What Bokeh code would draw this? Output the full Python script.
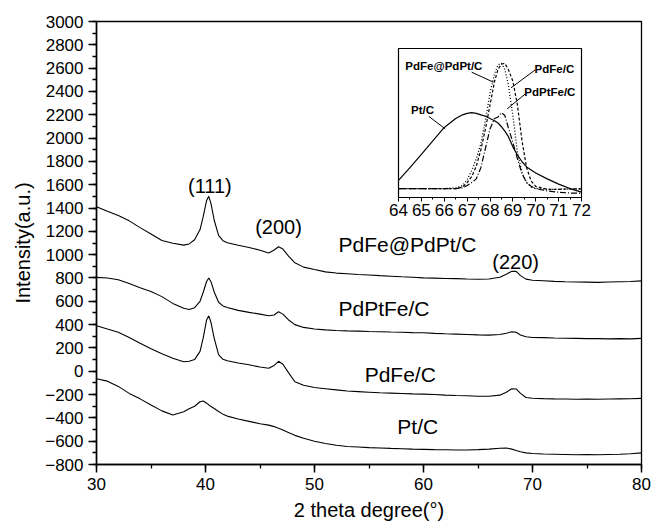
from bokeh.plotting import figure
from bokeh.models import Range1d, SingleIntervalTicker, Column
from bokeh.core.properties import value
from bokeh.embed import file_html
from bokeh.resources import INLINE

FONT = "Liberation Sans"

# ---------------- main XRD data ----------------
two_theta = [30, 31, 32, 33, 34, 35, 36, 37, 38, 38.5,
             39, 39.5, 39.8, 40.1, 40.3, 40.5, 40.8, 41.2, 41.6, 42,
             43, 44, 45, 45.8, 46.3, 46.7, 47.1, 47.6, 48.2, 49,
             50, 51, 52, 53, 54, 55, 56, 57, 58, 59,
             60, 61, 62, 63, 64, 65, 66, 67, 67.6, 68.1,
             68.5, 68.9, 69.4, 70, 71, 72, 73, 74, 75, 76,
             77, 78, 79, 80]

pdfe_at_pdpt = [1410, 1372, 1335, 1290, 1232, 1178, 1122, 1098, 1082, 1092,
                1128, 1215, 1330, 1465, 1500, 1440, 1295, 1165, 1120, 1102,
                1080, 1062, 1038, 1015, 1040, 1068, 1048, 990, 930, 893,
                872, 852, 842, 836, 830, 826, 820, 815, 810, 806,
                801, 799, 796, 794, 791, 789, 791, 806, 832, 858,
                857, 820, 790, 781, 776, 771, 767, 765, 764, 762,
                765, 768, 770, 775]

pdptfe = [805, 800, 785, 752, 716, 684, 640, 582, 540, 530,
          545, 600, 680, 770, 800, 768, 680, 592, 560, 546,
          522, 505, 490, 476, 482, 510, 490, 442, 400, 376,
          362, 355, 350, 346, 344, 341, 339, 336, 334, 331,
          330, 325, 321, 318, 315, 312, 310, 315, 326, 338,
          334, 311, 296, 290, 288, 285, 283, 282, 280, 280,
          278, 280, 278, 282]

pdfe = [390, 362, 335, 290, 240, 192, 150, 112, 82, 86,
        100, 170, 290, 440, 475, 420, 282, 142, 102, 90,
        70, 55, 36, 25, 50, 85, 60, -10, -90, -120,
        -140, -150, -160, -170, -175, -180, -185, -188, -191, -194,
        -196, -200, -205, -208, -210, -214, -215, -205, -180, -150,
        -152, -190, -225, -232, -235, -237, -238, -240, -238, -240,
        -238, -237, -236, -233]

pt = [-65, -85, -130, -190, -237, -290, -340, -375, -348, -322,
      -300, -262, -255, -274, -288, -303, -320, -345, -368, -385,
      -410, -430, -450, -462, -475, -490, -505, -525, -550, -575,
      -600, -620, -635, -645, -650, -655, -658, -662, -665, -668,
      -670, -672, -673, -675, -675, -672, -668, -660, -658, -668,
      -680, -690, -700, -705, -710, -712, -714, -716, -715, -717,
      -714, -712, -708, -700]

series_names = ["PdFe@PdPt/C", "PdPtFe/C", "PdFe/C", "Pt/C"]
series_label_x = [52.2, 52.2, 54.6, 57.6]
series_label_y = [1090, 535, -30, -470]

peak_labels = ["(111)", "(200)", "(220)"]
peak_label_x = [40.4, 46.7, 68.45]
peak_label_y = [1585, 1240, 935]

# ---------------- inset data ----------------
inset_x = [64, 64.5, 65, 65.5, 66, 66.5, 66.8, 67, 67.2, 67.4,
           67.6, 67.8, 68, 68.2, 68.35, 68.5, 68.65, 68.8, 69, 69.2,
           69.4, 69.6, 69.8, 70, 70.5, 71, 71.5, 72]
inset_pt = [11.5, 20, 29, 38, 47, 53, 55.5, 56.5, 57, 56.5,
            55.5, 54.5, 53, 51.5, 50, 47.5, 44.5, 41, 34, 28.5,
            24, 20.5, 18.5, 16.5, 12.5, 9, 6, 3.6]
inset_pdfe_at_pdpt = [6, 6, 6, 6, 6, 6.5, 8, 12, 18, 26,
                      36, 52, 70, 83, 89, 90, 86, 76, 55, 30,
                      17, 10, 7, 6, 5.5, 5.5, 5.8, 5.8]
inset_pdfe = [6, 6, 6, 6, 6, 6, 7, 10, 14, 21,
              32, 46, 62, 78, 86, 89.5, 90, 86, 78, 62,
              38, 20, 11, 7.5, 5.5, 5.5, 5.8, 5.8]
inset_pdptfe = [6, 6, 6, 6, 6, 6, 6.5, 8, 10, 12.5,
                20, 33, 46, 53, 54, 57, 55, 47, 37, 26,
                16, 10, 7.5, 6, 4.5, 3.5, 3, 3]

inset_label_x = [64.3, 69.95, 69.5, 64.55]
inset_label_y = [88.5, 86, 70.7, 58.4]
# leader lines: label end -> curve
leader_x0 = [67.2, 69.98, 69.55, 65.33]
leader_y0 = [84.1, 85.7, 69.6, 54.4]
leader_x1 = [68.15, 68.92, 68.75, 66.04]
leader_y1 = [77.4, 73.6, 59.5, 46.1]

BORDER_L = 96
BORDER_R = 10

# ---------------- main figure ----------------
p = figure(width=651, height=528, x_range=Range1d(30, 80), y_range=Range1d(-800, 3000),
           output_backend="svg", toolbar_location=None,
           min_border_left=BORDER_L, min_border_right=BORDER_R, min_border_top=21, min_border_bottom=64)
p.background_fill_color = "white"
p.border_fill_color = "white"
p.outline_line_color = "black"
p.outline_line_width = 1.3
p.xgrid.visible = False
p.ygrid.visible = False

p.xaxis.ticker = SingleIntervalTicker(interval=10, num_minor_ticks=2)
p.yaxis.ticker = SingleIntervalTicker(interval=200, num_minor_ticks=2)
p.xaxis.axis_label = "2 theta degree(°)"
p.yaxis.axis_label = "Intensity(a.u.)"
for ax in (p.xaxis[0], p.yaxis[0]):
    ax.axis_line_width = 1.5
    ax.axis_line_color = "black"
    ax.major_tick_line_width = 1.5
    ax.minor_tick_line_width = 1.3
    ax.major_tick_line_color = "black"
    ax.minor_tick_line_color = "black"
    ax.major_tick_out = 8
    ax.major_tick_in = 0
    ax.minor_tick_out = 4
    ax.minor_tick_in = 0
    ax.major_label_text_font = FONT
    ax.major_label_text_font_size = "17px"
    ax.major_label_text_color = "black"
    ax.major_label_standoff = 5
    ax.axis_label_text_font = FONT
    ax.axis_label_text_font_size = "20px"
    ax.axis_label_text_font_style = "normal"
    ax.axis_label_text_color = "black"
p.xaxis.axis_label_standoff = 6
p.yaxis.axis_label_standoff = 8

for ys in (pdfe_at_pdpt, pdptfe, pdfe, pt):
    p.line(two_theta, ys, line_color="black", line_width=1.1)

p.text(x=series_label_x, y=series_label_y, text=series_names,
       text_font=value(FONT), text_font_size="21px", text_color="black",
       text_align="left", text_baseline="middle")
p.text(x=peak_label_x, y=peak_label_y, text=peak_labels,
       text_font=value(FONT), text_font_size="20px", text_color="black",
       text_align="center", text_baseline="middle")

# ---------------- inset figure ----------------
inset = figure(frame_width=183, frame_height=149, x_range=Range1d(64, 72), y_range=Range1d(0, 100),
               y_axis_location=None, output_backend="svg", toolbar_location=None,
               min_border_left=BORDER_L, min_border_right=BORDER_R, min_border_top=2, min_border_bottom=0)
inset.background_fill_color = "white"
inset.border_fill_alpha = 0
inset.outline_line_color = "black"
inset.outline_line_width = 1.2
inset.xgrid.visible = False
inset.ygrid.visible = False
inset.xaxis.ticker = SingleIntervalTicker(interval=1, num_minor_ticks=2)
ix = inset.xaxis[0]
ix.axis_line_width = 1.2
ix.major_tick_out = 4
ix.major_tick_in = 0
ix.minor_tick_out = 2
ix.minor_tick_in = 0
ix.major_label_text_font = FONT
ix.major_label_text_font_size = "17px"
ix.major_label_text_color = "black"
ix.major_label_standoff = 2

inset.line(inset_x, inset_pt, line_color="black", line_width=1.2)
inset.line(inset_x, inset_pdfe_at_pdpt, line_color="black", line_width=1.3, line_dash="1 2")
inset.line(inset_x, inset_pdfe, line_color="black", line_width=1.2, line_dash="3 2")
inset.line(inset_x, inset_pdptfe, line_color="black", line_width=1.2, line_dash="6 2 1 2")
inset.segment(x0=leader_x0, y0=leader_y0, x1=leader_x1, y1=leader_y1, line_color="black", line_width=1)
inset.text(x=inset_label_x, y=inset_label_y,
           text=["PdFe@PdPt/C", "PdFe/C", "PdPtFe/C", "Pt/C"],
           text_font=value(FONT), text_font_size="11.5px", text_font_style="bold",
           text_color="black", text_align="left", text_baseline="middle")

inset.styles = {"position": "absolute", "left": f"{398 - BORDER_L}px", "top": "46px", "z-index": "5"}
root = Column(children=[p, inset], styles={"position": "relative"})

open("out.html", "w").write(file_html(root, INLINE))
